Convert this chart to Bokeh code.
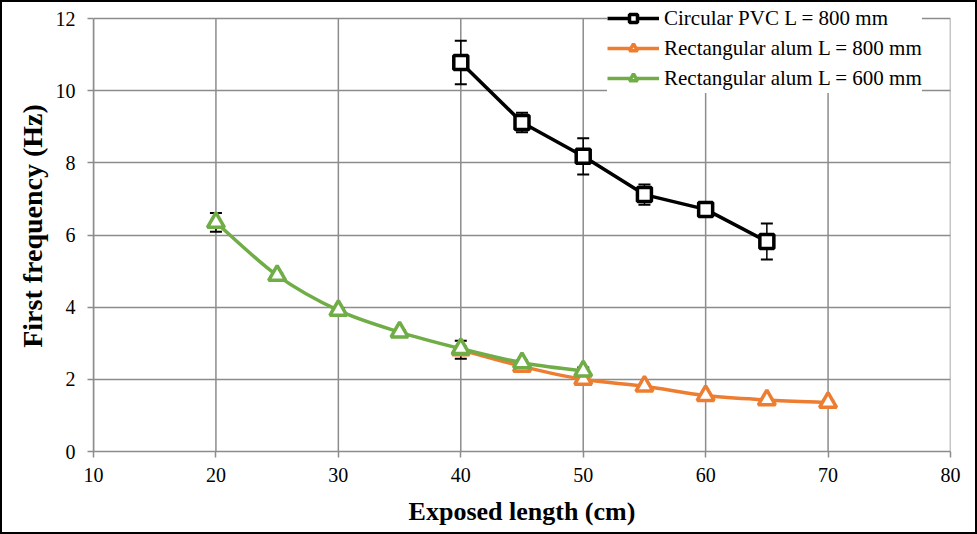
from bokeh.plotting import figure
from bokeh.models import (ColumnDataSource, Whisker, TeeHead, Legend, LegendItem,
                          Range1d, FixedTicker, InlineStyleSheet)
from bokeh.embed import file_html
from bokeh.resources import INLINE

# ---- data ----
pvc_x = [40, 45, 50, 55, 60, 65]
pvc_y = [10.78, 9.12, 8.18, 7.12, 6.71, 5.82]
pvc_err = [0.6, 0.27, 0.5, 0.28, 0.05, 0.5]

alu800_x = [40, 45, 50, 55, 60, 65, 70]
alu800_y = [2.82, 2.36, 2.0, 1.81, 1.55, 1.43, 1.36]
alu800_err = [0.25, 0.05, 0.05, 0.04, 0.04, 0.04, 0.05]

alu600_x = [20, 25, 30, 35, 40, 45, 50]
alu600_y = [6.35, 4.88, 3.91, 3.31, 2.85, 2.46, 2.23]
alu600_err = [0.26, 0.06, 0.06, 0.06, 0.06, 0.06, 0.1]

labels = ["Circular PVC L = 800 mm", "Rectangular alum L = 800 mm",
          "Rectangular alum L = 600 mm"]
colors = ["#000000", "#ED7D31", "#70AD47"]
x_ticks = [10, 20, 30, 40, 50, 60, 70, 80]
y_ticks = [0, 2, 4, 6, 8, 10, 12]

FONT = "Liberation Serif"
GRID = "#8c8c8c"

# frame reaches the top edge (so the legend is not clipped); 12 sits 18px below it
Y_TOP = y_ticks[-1] * 451.0 / 433.0

p = figure(width=977, height=534, output_backend="svg", toolbar_location=None,
           x_range=Range1d(x_ticks[0], x_ticks[-1]), y_range=Range1d(0, Y_TOP),
           min_border_left=93, min_border_right=27, min_border_top=0,
           min_border_bottom=83)
p.stylesheets = [InlineStyleSheet(css=(
    ":host::after { content: ''; position: absolute; left: 0; top: 0; "
    "right: 0; bottom: 0; border: 2px solid black; pointer-events: none; "
    "z-index: 1000; }"))]
p.outline_line_color = None

for ax in (p.xaxis[0], p.yaxis[0]):
    ax.axis_line_color = GRID
    ax.axis_line_width = 1.5
    ax.major_tick_line_color = GRID
    ax.major_tick_line_width = 1.5
    ax.major_tick_out = 6
    ax.major_tick_in = 0
    ax.minor_tick_line_color = None
    ax.major_label_text_font = FONT
    ax.major_label_text_font_size = "20px"
    ax.major_label_text_color = "black"
    ax.axis_label_text_font = FONT
    ax.axis_label_text_font_style = "bold"
    ax.axis_label_text_color = "black"

p.xaxis.ticker = FixedTicker(ticks=x_ticks)
p.yaxis.ticker = FixedTicker(ticks=y_ticks)
p.yaxis.bounds = (y_ticks[0], y_ticks[-1])
p.xaxis.axis_label = "Exposed length (cm)"
p.yaxis.axis_label = "First frequency (Hz)"
p.xaxis.axis_label_text_font_size = "26px"
p.yaxis.axis_label_text_font_size = "28px"
p.xaxis.major_label_standoff = 10
p.yaxis.major_label_standoff = 12
p.xaxis.axis_label_standoff = 12
p.yaxis.axis_label_standoff = 5

p.xgrid.visible = False
p.ygrid.grid_line_color = GRID
p.ygrid.grid_line_width = 1.5
p.ygrid.ticker = FixedTicker(ticks=y_ticks)
# vertical grid lines limited to the 0..12 span
p.segment(x0=x_ticks, x1=x_ticks, y0=[y_ticks[0]] * len(x_ticks),
          y1=[y_ticks[-1]] * len(x_ticks), line_color=GRID, line_width=1.5,
          level="underlay")


def smooth_segments(xs, ys, t=1.0 / 6.0):
    """Bezier control points (Catmull-Rom style, as in Excel smoothed lines)."""
    n = len(xs)
    d = dict(x0=[], y0=[], x1=[], y1=[], cx0=[], cy0=[], cx1=[], cy1=[])
    for i in range(n - 1):
        xm = xs[i - 1] if i > 0 else xs[i]
        ym = ys[i - 1] if i > 0 else ys[i]
        xp = xs[i + 2] if i + 2 < n else xs[i + 1]
        yp = ys[i + 2] if i + 2 < n else ys[i + 1]
        d["x0"].append(xs[i]); d["y0"].append(ys[i])
        d["x1"].append(xs[i + 1]); d["y1"].append(ys[i + 1])
        d["cx0"].append(xs[i] + (xs[i + 1] - xm) * t)
        d["cy0"].append(ys[i] + (ys[i + 1] - ym) * t)
        d["cx1"].append(xs[i + 1] - (xp - xs[i]) * t)
        d["cy1"].append(ys[i + 1] - (yp - ys[i]) * t)
    return ColumnDataSource(d)


series = [
    (pvc_x, pvc_y, pvc_err, "square", 14, False),
    (alu800_x, alu800_y, alu800_err, "triangle", 17, True),
    (alu600_x, alu600_y, alu600_err, "triangle", 17, True),
]

NAN = float("nan")
LW = 3.5
order = [1, 2, 0]  # orange, green, black on top
rend = {}
for k in order:
    xs, ys, err, marker, size, smooth = series[k]
    col = colors[k]
    src = ColumnDataSource(dict(x=xs, y=ys,
                                lo=[a - b for a, b in zip(ys, err)],
                                hi=[a + b for a, b in zip(ys, err)]))
    w = Whisker(base="x", upper="hi", lower="lo", source=src,
                line_color="black", line_width=1.5,
                upper_head=TeeHead(size=12, line_color="black", line_width=2),
                lower_head=TeeHead(size=12, line_color="black", line_width=2))
    p.add_layout(w)
    if smooth:
        bs = smooth_segments(xs, ys)
        p.bezier(x0="x0", y0="y0", x1="x1", y1="y1", cx0="cx0", cy0="cy0",
                 cx1="cx1", cy1="cy1", source=bs, line_color=col, line_width=LW)
        leg_line = p.line(x=[NAN, NAN], y=[NAN, NAN], line_color=col, line_width=LW)
    else:
        leg_line = p.line(x="x", y="y", source=src, line_color=col, line_width=LW)
    sc = p.scatter(x="x", y="y", source=src, marker=marker, size=size,
                   fill_color="white", line_color=col, line_width=3.5)
    rend[k] = (leg_line, sc)

items = [LegendItem(label=labels[k], renderers=list(rend[k])) for k in range(3)]

legend = Legend(items=items, location=(514, 358), orientation="vertical",
                label_text_font=FONT, label_text_font_size="21px",
                label_text_color="black", glyph_width=52, glyph_height=20,
                label_height=30, spacing=0, padding=0, margin=0,
                label_standoff=5, border_line_color=None,
                background_fill_color="white", background_fill_alpha=1.0)
p.add_layout(legend)

open("out.html", "w").write(file_html(p, INLINE))
